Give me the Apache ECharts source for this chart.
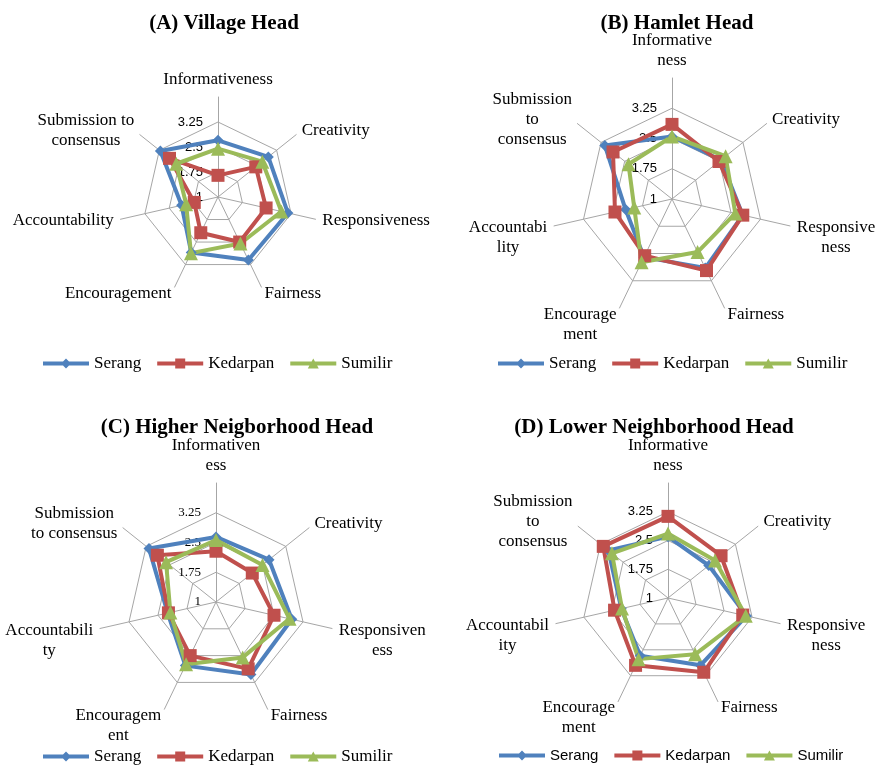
<!DOCTYPE html>
<html><head><meta charset="utf-8">
<script src="https://cdn.jsdelivr.net/npm/echarts@6/dist/echarts.min.js"></script>
<style>html,body{margin:0;padding:0;background:#fff}#c{width:877px;height:767px}</style>
</head><body><div id="c"></div>
<script>
// Categories (clockwise from top)
const categories = ['Informativeness','Creativity','Responsiveness','Fairness','Encouragement','Accountability','Submission to consensus'];
const labelsA = ['Informativeness','Creativity','Responsiveness','Fairness','Encouragement','Accountability','Submission to\nconsensus'];
const labelsB = ['Informative\nness','Creativity','Responsive\nness','Fairness','Encourage\nment','Accountabi\nlity','Submission\nto\nconsensus'];
const labelsC = ['Informativen\ness','Creativity','Responsiven\ness','Fairness','Encouragem\nent','Accountabili\nty','Submission\nto consensus'];
const labelsD = ['Informative\nness','Creativity','Responsive\nness','Fairness','Encourage\nment','Accountabil\nity','Submission\nto\nconsensus'];
const tickLabels = ['1','1.75','2.5','3.25'];
const seriesNames = ['Serang','Kedarpan','Sumilir'];
const titles = ['(A) Village Head','(B) Hamlet Head','(C) Higher Neigborhood Head','(D) Lower Neighborhood Head'];

// Values (same order as categories)
const villageSerang   = [2.70, 2.93, 3.15, 3.10, 2.85, 2.12, 3.21];
const villageKedarpan = [1.65, 2.45, 2.48, 2.50, 2.19, 1.73, 2.86];
const villageSumilir  = [2.45, 2.70, 2.95, 2.55, 2.87, 1.98, 2.60];

const hamletSerang    = [2.55, 2.55, 2.80, 2.90, 2.60, 2.18, 3.13];
const hamletKedarpan  = [2.85, 2.49, 2.80, 2.97, 2.56, 2.45, 2.87];
const hamletSumilir   = [2.55, 2.70, 2.61, 2.46, 2.74, 1.96, 2.38];

const higherSerang    = [2.64, 2.71, 2.96, 3.03, 2.78, 2.25, 3.16];
const higherKedarpan  = [2.28, 2.17, 2.50, 2.87, 2.50, 2.23, 2.89];
const higherSumilir   = [2.56, 2.50, 2.90, 2.55, 2.74, 2.18, 2.61];

const lowerSerang     = [2.60, 2.36, 3.10, 2.95, 2.67, 2.25, 2.99];
const lowerKedarpan   = [3.13, 2.77, 3.00, 3.15, 2.95, 2.43, 3.16];
const lowerSumilir    = [2.68, 2.57, 3.08, 2.63, 2.77, 2.23, 2.87];

const axisMin = 1, axisMax = 4;

// ---- styling / layout ----
const colors = ['#4F81BD', '#C0504D', '#9BBB59'];
const symbols = ['diamond', 'rect', 'triangle'];
const symbolSizes = [11, 13, 14];
const gridColor = '#A6A6A6';
const serif = 'Liberation Serif';
const sans = 'Liberation Sans';
// ECharts places indicators counter-clockwise; reorder clockwise categories
const order = [0, 6, 5, 4, 3, 2, 1];
const reorder = arr => order.map(i => arr[i]);
// labels in the lower half hang from their first line
const hangIdx = [2, 3, 4, 5];

const panels = [
  {labels: labelsA, data: [villageSerang, villageKedarpan, villageSumilir], center: [218, 197], radius: 100,
   title: [219, 8], legend: [38, 350], tickFont: sans, legendFont: serif, legendSize: 17},
  {labels: labelsB, data: [hamletSerang, hamletKedarpan, hamletSumilir], center: [672, 199], radius: 121,
   title: [672, 8], legend: [493, 350], tickFont: sans, legendFont: serif, legendSize: 17},
  {labels: labelsC, data: [higherSerang, higherKedarpan, higherSumilir], center: [216, 602], radius: 119,
   title: [232, 412], legend: [38, 743], tickFont: serif, legendFont: serif, legendSize: 17},
  {labels: labelsD, data: [lowerSerang, lowerKedarpan, lowerSumilir], center: [668, 598], radius: 115,
   title: [649, 412], legend: [494, 743], tickFont: sans, legendFont: sans, legendSize: 15}
];

const icons = [
  'path://M0,3 L20,3 L23,0 L26,3 L46,3 L46,7 L26,7 L23,10 L20,7 L0,7 Z',
  'path://M0,3 L18,3 L18,0 L28,0 L28,3 L46,3 L46,7 L28,7 L28,10 L18,10 L18,7 L0,7 Z',
  'path://M0,3 L21.35,3 L23,0 L24.65,3 L46,3 L46,7 L26.85,7 L28.5,10 L17.5,10 L19.15,7 L0,7 Z'
];

const radar = panels.map(p => {
  const ind = reorder(p.labels).map(n => ({name: n, min: axisMin, max: axisMax}));
  ind[0].axisLabel = {
    show: true, margin: 15, color: '#000', fontFamily: p.tickFont, fontSize: 13,
    formatter: (v, i) => tickLabels[i] !== undefined ? tickLabels[i] : ''
  };
  return {
    center: p.center, radius: p.radius, startAngle: 90, shape: 'polygon', splitNumber: 4,
    indicator: ind,
    nameGap: 7,
    axisName: {
      color: '#000', fontFamily: serif, fontSize: 17,
      formatter: n => {
        const idx = p.labels.indexOf(n);
        const lines = n.split('\n');
        let pre = '';
        if (hangIdx.indexOf(idx) >= 0) {
          for (let k = 0; k < lines.length - 1; k++) pre += '\u00a0\n';
        }
        return '{c|' + pre + n + '}';
      },
      rich: {c: {align: 'center', color: '#000', fontFamily: serif, fontSize: 17, lineHeight: 20}}
    },
    axisLine: {lineStyle: {color: gridColor, width: 1}},
    splitLine: {lineStyle: {color: [gridColor, gridColor, gridColor, gridColor, 'rgba(0,0,0,0)'], width: 1}},
    splitArea: {show: false},
    axisTick: {show: false},
    axisLabel: {show: false}
  };
});

const series = panels.map((p, pi) => ({
  type: 'radar', radarIndex: pi, silent: true,
  data: p.data.map((vals, si) => ({
    name: seriesNames[si], value: reorder(vals),
    symbol: symbols[si], symbolSize: symbolSizes[si],
    itemStyle: {color: colors[si]},
    lineStyle: {color: colors[si], width: 4}
  }))
}));

const title = panels.map((p, pi) => ({
  text: titles[pi], left: p.title[0], top: p.title[1], textAlign: 'center',
  textStyle: {fontFamily: serif, fontWeight: 'bold', fontSize: 21, color: '#000'}
}));

const legend = panels.map(p => ({
  left: p.legend[0], top: p.legend[1], width: 380, padding: 5, itemWidth: 46, itemHeight: 10, itemGap: 16,
  selectedMode: false,
  textStyle: {fontFamily: p.legendFont, fontSize: p.legendSize, color: '#000', overflow: 'none', width: null},
  data: seriesNames.map((n, si) => ({name: n, icon: icons[si], itemStyle: {color: colors[si]}}))
}));

const chart = echarts.init(document.getElementById('c'), null, {renderer: 'canvas'});
chart.setOption({animation: false, backgroundColor: '#fff', title, legend, radar, series});
</script></body></html>
